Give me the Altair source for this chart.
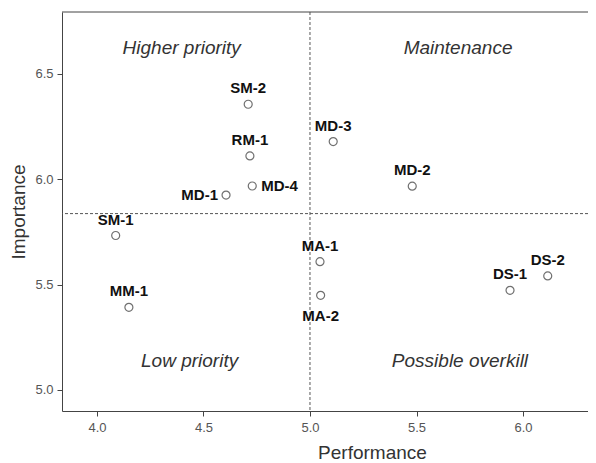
import altair as alt
import pandas as pd

# ---- data ----
names = ["SM-2", "RM-1", "MD-4", "MD-1", "SM-1", "MD-3", "MD-2",
         "MM-1", "MA-1", "MA-2", "DS-1", "DS-2"]
performance = [4.710, 4.718, 4.729, 4.606, 4.088, 5.109, 5.480,
               4.150, 5.047, 5.050, 5.939, 6.116]
importance = [6.356, 6.111, 5.968, 5.925, 5.733, 6.179, 5.967,
              5.392, 5.609, 5.449, 5.473, 5.541]

quadrant_labels = ["Higher priority", "Maintenance", "Low priority", "Possible overkill"]
quadrant_perf = [4.398, 5.695, 4.435, 5.704]
quadrant_imp = [6.593, 6.593, 5.107, 5.107]

perf_cut = [5.0]
imp_cut = [5.837]

x_ticks = [4.0, 4.5, 5.0, 5.5, 6.0]
y_ticks = [5.0, 5.5, 6.0, 6.5]
x_domain = [3.836, 6.305]
y_domain = [4.90, 6.794]

# label placement (style, not data)
placement = {"MD-1": "left", "MD-4": "right", "MA-2": "below"}

FONT = "Liberation Sans"
W, H = 526, 399

df = pd.DataFrame({"name": names, "performance": performance, "importance": importance})
df["place"] = [placement.get(n, "above") for n in names]
qdf = pd.DataFrame({"label": quadrant_labels, "performance": quadrant_perf, "importance": quadrant_imp})
hdf = pd.DataFrame({"importance": imp_cut})
vdf = pd.DataFrame({"performance": perf_cut})

xs = alt.Scale(domain=x_domain, nice=False, zero=False)
ys = alt.Scale(domain=y_domain, nice=False, zero=False)

axis_style = dict(
    grid=False, labelFont=FONT, labelFontSize=13, labelColor="#555",
    tickColor="#444", tickSize=5, domainColor="#444",
    titleFont=FONT, titleFontSize=19, titleFontWeight="normal", titleColor="#333",
)

x_enc = alt.X("performance:Q", scale=xs, title="Performance",
              axis=alt.Axis(values=x_ticks, format=".1f", titleX=310, titleY=47,
                            titleBaseline="alphabetic", labelPadding=5, **axis_style))
y_enc = alt.Y("importance:Q", scale=ys, title="Importance",
              axis=alt.Axis(values=y_ticks, format=".1f", titleX=-38, titleY=199.5,
                            titleAngle=270, titleBaseline="alphabetic", titleAlign="center",
                            labelPadding=4, **axis_style))

base = alt.Chart(df)

points = base.mark_point(shape="circle", filled=False, size=64, stroke="#707070",
                         strokeWidth=1.2, opacity=1).encode(x=x_enc, y=y_enc)

def lbl(place, **kw):
    return base.transform_filter(alt.datum.place == place).mark_text(
        font=FONT, fontSize=15, fontWeight="bold", color="#111", baseline="middle", **kw
    ).encode(x="performance:Q", y="importance:Q", text="name:N")

above = lbl("above", dy=-16)
left = lbl("left", align="right", dx=-8)
right = lbl("right", align="left", dx=9)
below = lbl("below", dy=21)

hline = alt.Chart(hdf).mark_rule(strokeDash=[3, 2], color="#555", strokeWidth=1).encode(y="importance:Q")
vline = alt.Chart(vdf).mark_rule(strokeDash=[3, 2], color="#555", strokeWidth=1).encode(x="performance:Q")

quad = alt.Chart(qdf).mark_text(font=FONT, fontSize=19, fontStyle="italic", color="#333",
                                baseline="alphabetic").encode(
    x="performance:Q", y="importance:Q", text="label:N")

top = alt.Chart(hdf).mark_rule(color="#444", strokeWidth=1).encode(
    x=alt.value(0), x2=alt.value(W), y=alt.value(0))

chart = alt.layer(points, hline, vline, top, quad, above, left, right, below).properties(
    width=W, height=H,
    autosize=alt.AutoSizeParams(type="none"),
    padding={"left": 54, "top": 4, "right": 0, "bottom": 52},
    background="white",
).configure_axis(**axis_style).configure_view(stroke=None)

chart.save("out.html", embed_options={"renderer": "svg", "actions": False})
